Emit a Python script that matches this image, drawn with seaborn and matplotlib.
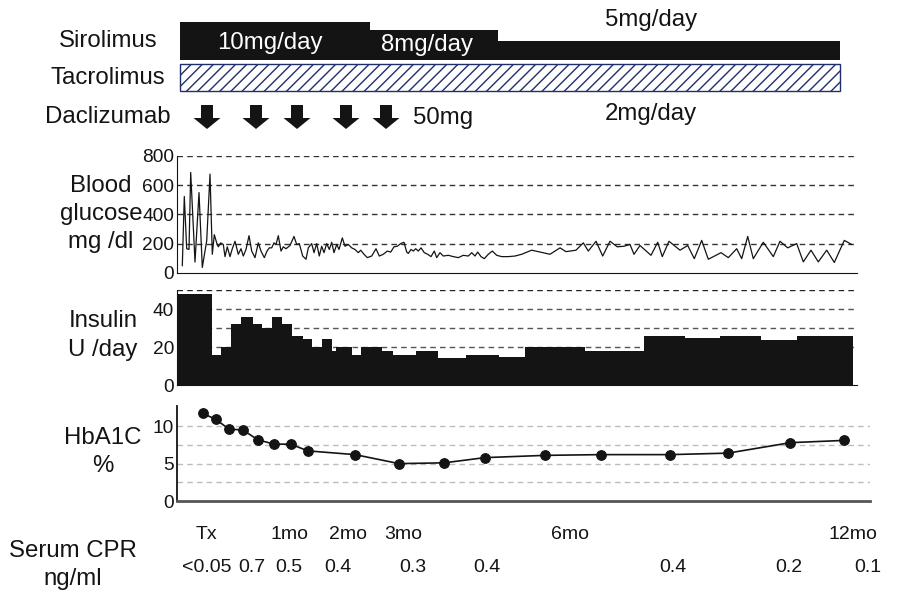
import numpy as np
import matplotlib
matplotlib.use("Agg")
import matplotlib.pyplot as plt
import matplotlib.transforms as mtransforms
from matplotlib.patches import FancyArrow
import seaborn as sns

# --- datos (eje de tiempo en unidades de la línea de tiempo del dibujo) ---
sir_start = [3, 193, 321]
sir_end = [193, 321, 663]
sir_dose = [10, 8, 5]
sir_labels = ["10mg/day", "8mg/day", "5mg/day"]

tac_start = [3]
tac_end = [663]

dac_t = [30, 79, 120, 169, 209]

glu_t = [5.3, 7.3, 9.7, 12, 13.7, 18, 22, 25.3, 29.7, 33,
         35.3, 37.3, 39.7, 41.3, 43.7, 46.3, 48, 50.3, 53, 55.3,
         58, 61.3, 64, 66.3, 69, 72, 74.7, 78, 81.3, 84,
         87.3, 90, 92.3, 94.7, 97, 99, 101.3, 104, 106.3, 109,
         113, 117, 119.7, 122.3, 125.7, 129, 131.3, 134.7, 137, 139.7,
         142.3, 144.7, 147, 149.7, 152.3, 154.7, 157, 159.7, 162, 165.3,
         168, 171.3, 174.7, 178, 181.3, 183.7, 187, 190.3, 194.7, 199,
         202.3, 206.3, 210.3, 213.7, 217, 220.3, 223.7, 227, 229.7, 231.3,
         234, 236.3, 238.7, 241.3, 244, 247.3, 250.7, 254, 257.3, 259.7,
         263, 266.3, 271.3, 276.3, 281.3, 286.3, 291.3, 294.7, 298, 300.7,
         304, 307.3, 311.3, 315.3, 319.7, 324.7, 331.3, 338, 344.7, 354.7,
         373, 383, 389, 399, 406.3, 411.3, 419, 425.7, 433, 440.3,
         447, 453, 457, 463, 474, 480.7, 485.3, 492, 503, 510.7,
         517.3, 524.7, 531.3, 544, 551.3, 559.7, 564.7, 570.7, 576.3, 586.3,
         596.3, 603, 610.7, 619.7, 626.3, 634, 641.3, 649.7, 657.3, 667.3,
         674.7]
glu_val = [49, 523, 166, 161, 687, 75, 550, 38, 220, 676,
           128, 262, 206, 179, 206, 195, 112, 179, 112, 166,
           217, 128, 166, 116, 161, 255, 150, 105, 206, 150,
           105, 150, 172, 172, 206, 195, 255, 150, 179, 166,
           188, 250, 195, 201, 116, 94, 172, 201, 139, 201,
           116, 183, 139, 201, 161, 210, 139, 195, 161, 240,
           183, 195, 172, 161, 139, 156, 128, 105, 116, 166,
           116, 128, 150, 143, 179, 183, 201, 210, 143, 134,
           161, 150, 166, 150, 172, 139, 128, 112, 150, 105,
           139, 116, 121, 112, 105, 121, 116, 139, 116, 143,
           112, 98, 128, 150, 121, 112, 112, 116, 128, 156,
           128, 172, 146, 156, 206, 150, 217, 116, 217, 179,
           183, 195, 128, 188, 121, 210, 112, 217, 156, 188,
           98, 223, 94, 139, 105, 166, 98, 250, 98, 210,
           112, 217, 172, 201, 76, 156, 76, 156, 72, 223,
           195]

ins_edges = [1, 35, 44, 54, 64, 76, 85, 95, 105, 115, 126, 135, 145, 155, 159, 175,
             184, 205, 216, 239, 261, 289, 322, 348, 408, 467, 508, 543, 584, 620, 676]
ins_val = [48, 16, 20, 32, 36, 32, 30, 36, 32, 26, 24, 20, 24, 18, 20, 16, 20, 18,
           16, 18, 14, 16, 15, 20, 18, 26, 25, 26, 23.5, 26]

hba_t = [26, 39, 52, 66, 80.5, 97, 113.5, 131, 178, 222, 267, 308, 368, 424, 493, 551, 613.5, 667]
hba_val = [11.7, 10.9, 9.6, 9.5, 8.2, 7.6, 7.6, 6.7, 6.2, 5.0, 5.1, 5.8, 6.1, 6.2, 6.2, 6.4, 7.8, 8.1]

time_t = [29, 113, 171, 226, 393, 676]
time_labels = ["Tx", "1mo", "2mo", "3mo", "6mo", "12mo"]

cpr_t = [30, 75, 112, 161, 236, 310, 496, 612, 691]
cpr_labels = ["<0.05", "0.7", "0.5", "0.4", "0.3", "0.4", "0.4", "0.2", "0.1"]

# --- estilo ---
sns.set_style("white")
plt.rcParams["font.family"] = ["Liberation Sans", "DejaVu Sans"]
plt.rcParams["hatch.linewidth"] = 1.0
FS = 17.3      # etiquetas
FS_TICK = 13.8 # números de los ejes
FS_TIME = 14
INK = "#141414"

W, H = 898, 595
fig = plt.figure(figsize=(W / 100, H / 100), dpi=100)


def px_axes(left, top, right, bottom):
    return fig.add_axes([left / W, 1 - bottom / H, (right - left) / W, (bottom - top) / H])


def ftxt(x, y, s, **kw):
    kw.setdefault("fontsize", FS)
    kw.setdefault("ha", "center")
    kw.setdefault("va", "center")
    kw.setdefault("color", INK)
    fig.text(x / W, 1 - y / H, s, **kw)


# Sirolimus
ax_s = px_axes(177, 22, 857, 60)
ax_s.bar(sir_start, sir_dose, width=np.subtract(sir_end, sir_start), align="edge",
         color=INK, linewidth=0)
ax_s.set_xlim(0, 680)
ax_s.set_ylim(0, 10)
ax_s.axis("off")

# Tacrolimus + Daclizumab (eje y en filas, invertido)
ax_t = px_axes(177, 60, 857, 140)
ax_t.bar(tac_start, 27, width=np.subtract(tac_end, tac_start), bottom=64, align="edge",
         facecolor="white", edgecolor="#1f2f6b", hatch="///", linewidth=1.0)
for t in dac_t:
    ax_t.add_patch(FancyArrow(t, 105, 0, 24, width=12, head_width=27, head_length=11,
                              length_includes_head=True, color=INK, linewidth=0))
ax_t.set_xlim(0, 680)
ax_t.set_ylim(140, 60)
ax_t.axis("off")

# Glucosa
ax_g = px_axes(177, 156, 857, 273)
for v in [200, 400, 600, 800]:
    ax_g.axhline(v, color="#333333", lw=1, ls=(0, (4, 3)), zorder=0)
sns.lineplot(x=glu_t, y=glu_val, ax=ax_g, color=INK, lw=0.9, sort=False)
ax_g.set_xlim(0, 680)
ax_g.set_ylim(0, 800)
ax_g.set_yticks([0, 200, 400, 600, 800])

# Insulina
ax_i = px_axes(177, 290, 857, 385)
for v in [20, 30, 40, 50]:
    ax_i.axhline(v, color="#555555" if v < 50 else "#222222", lw=1, ls=(0, (4, 3)), zorder=0)
centers = (np.array(ins_edges[:-1]) + np.array(ins_edges[1:])) / 2
sns.histplot(x=centers, weights=ins_val, bins=ins_edges, ax=ax_i, element="step",
             fill=True, color=INK, alpha=1, linewidth=0, zorder=2)
ax_i.set_xlim(0, 680)
ax_i.set_ylim(0, 50)
ax_i.set_yticks([0, 20, 40])

# HbA1c
ax_h = px_axes(177, 406, 870, 501)
for v in [2.5, 5, 7.5, 10]:
    ax_h.axhline(v, color="#bdbdbd", lw=1, ls=(0, (4, 3)), zorder=0)
sns.lineplot(x=hba_t, y=hba_val, ax=ax_h, color=INK, lw=1.2, marker="o", markersize=7,
             markeredgecolor=INK, sort=False)
ax_h.set_xlim(0, 693)
ax_h.set_ylim(0, 12.7)
ax_h.set_yticks([0, 5, 10])
ax_h.set_xticks(time_t)
ax_h.set_xticklabels(time_labels)

for ax in [ax_g, ax_i, ax_h]:
    sns.despine(ax=ax)
    ax.set_xlabel("")
    ax.set_ylabel("")
    ax.tick_params(axis="both", length=0, labelsize=FS_TICK, pad=2, colors=INK)
    ax.spines["left"].set_color(INK)
    ax.spines["bottom"].set_color(INK)
for ax in [ax_g, ax_i]:
    ax.set_xticks([])
ax_h.tick_params(axis="x", pad=18, labelsize=FS_TIME)
ax_h.spines["left"].set_linewidth(1.3)
ax_h.spines["bottom"].set_color("#555555")
ax_h.spines["bottom"].set_linewidth(2)

# textos
ftxt(108, 41, "Sirolimus")
ftxt(108, 78, "Tacrolimus")
ftxt(108, 117, "Daclizumab")
ftxt(270, 43, sir_labels[0], color="white")
ftxt(427, 45, sir_labels[1], color="white")
ftxt(651, 20, sir_labels[2])
ftxt(651, 114, "2mg/day")
ftxt(443, 118, "50mg")
ftxt(101, 214, "Blood\nglucose\nmg /dl", linespacing=1.37)
ftxt(103, 335.5, "Insulin\nU /day", linespacing=1.37)
ftxt(103, 452, "HbA1C\n%", linespacing=1.37)
ftxt(73, 565, "Serum CPR\nng/ml", linespacing=1.4)

trans = mtransforms.blended_transform_factory(ax_h.transData, fig.transFigure)
for t, s in zip(cpr_t, cpr_labels):
    ax_h.text(t, 1 - 567 / H, s, transform=trans, ha="center", va="center",
              fontsize=FS_TIME, color=INK)

plt.savefig("out.png", dpi=100)
